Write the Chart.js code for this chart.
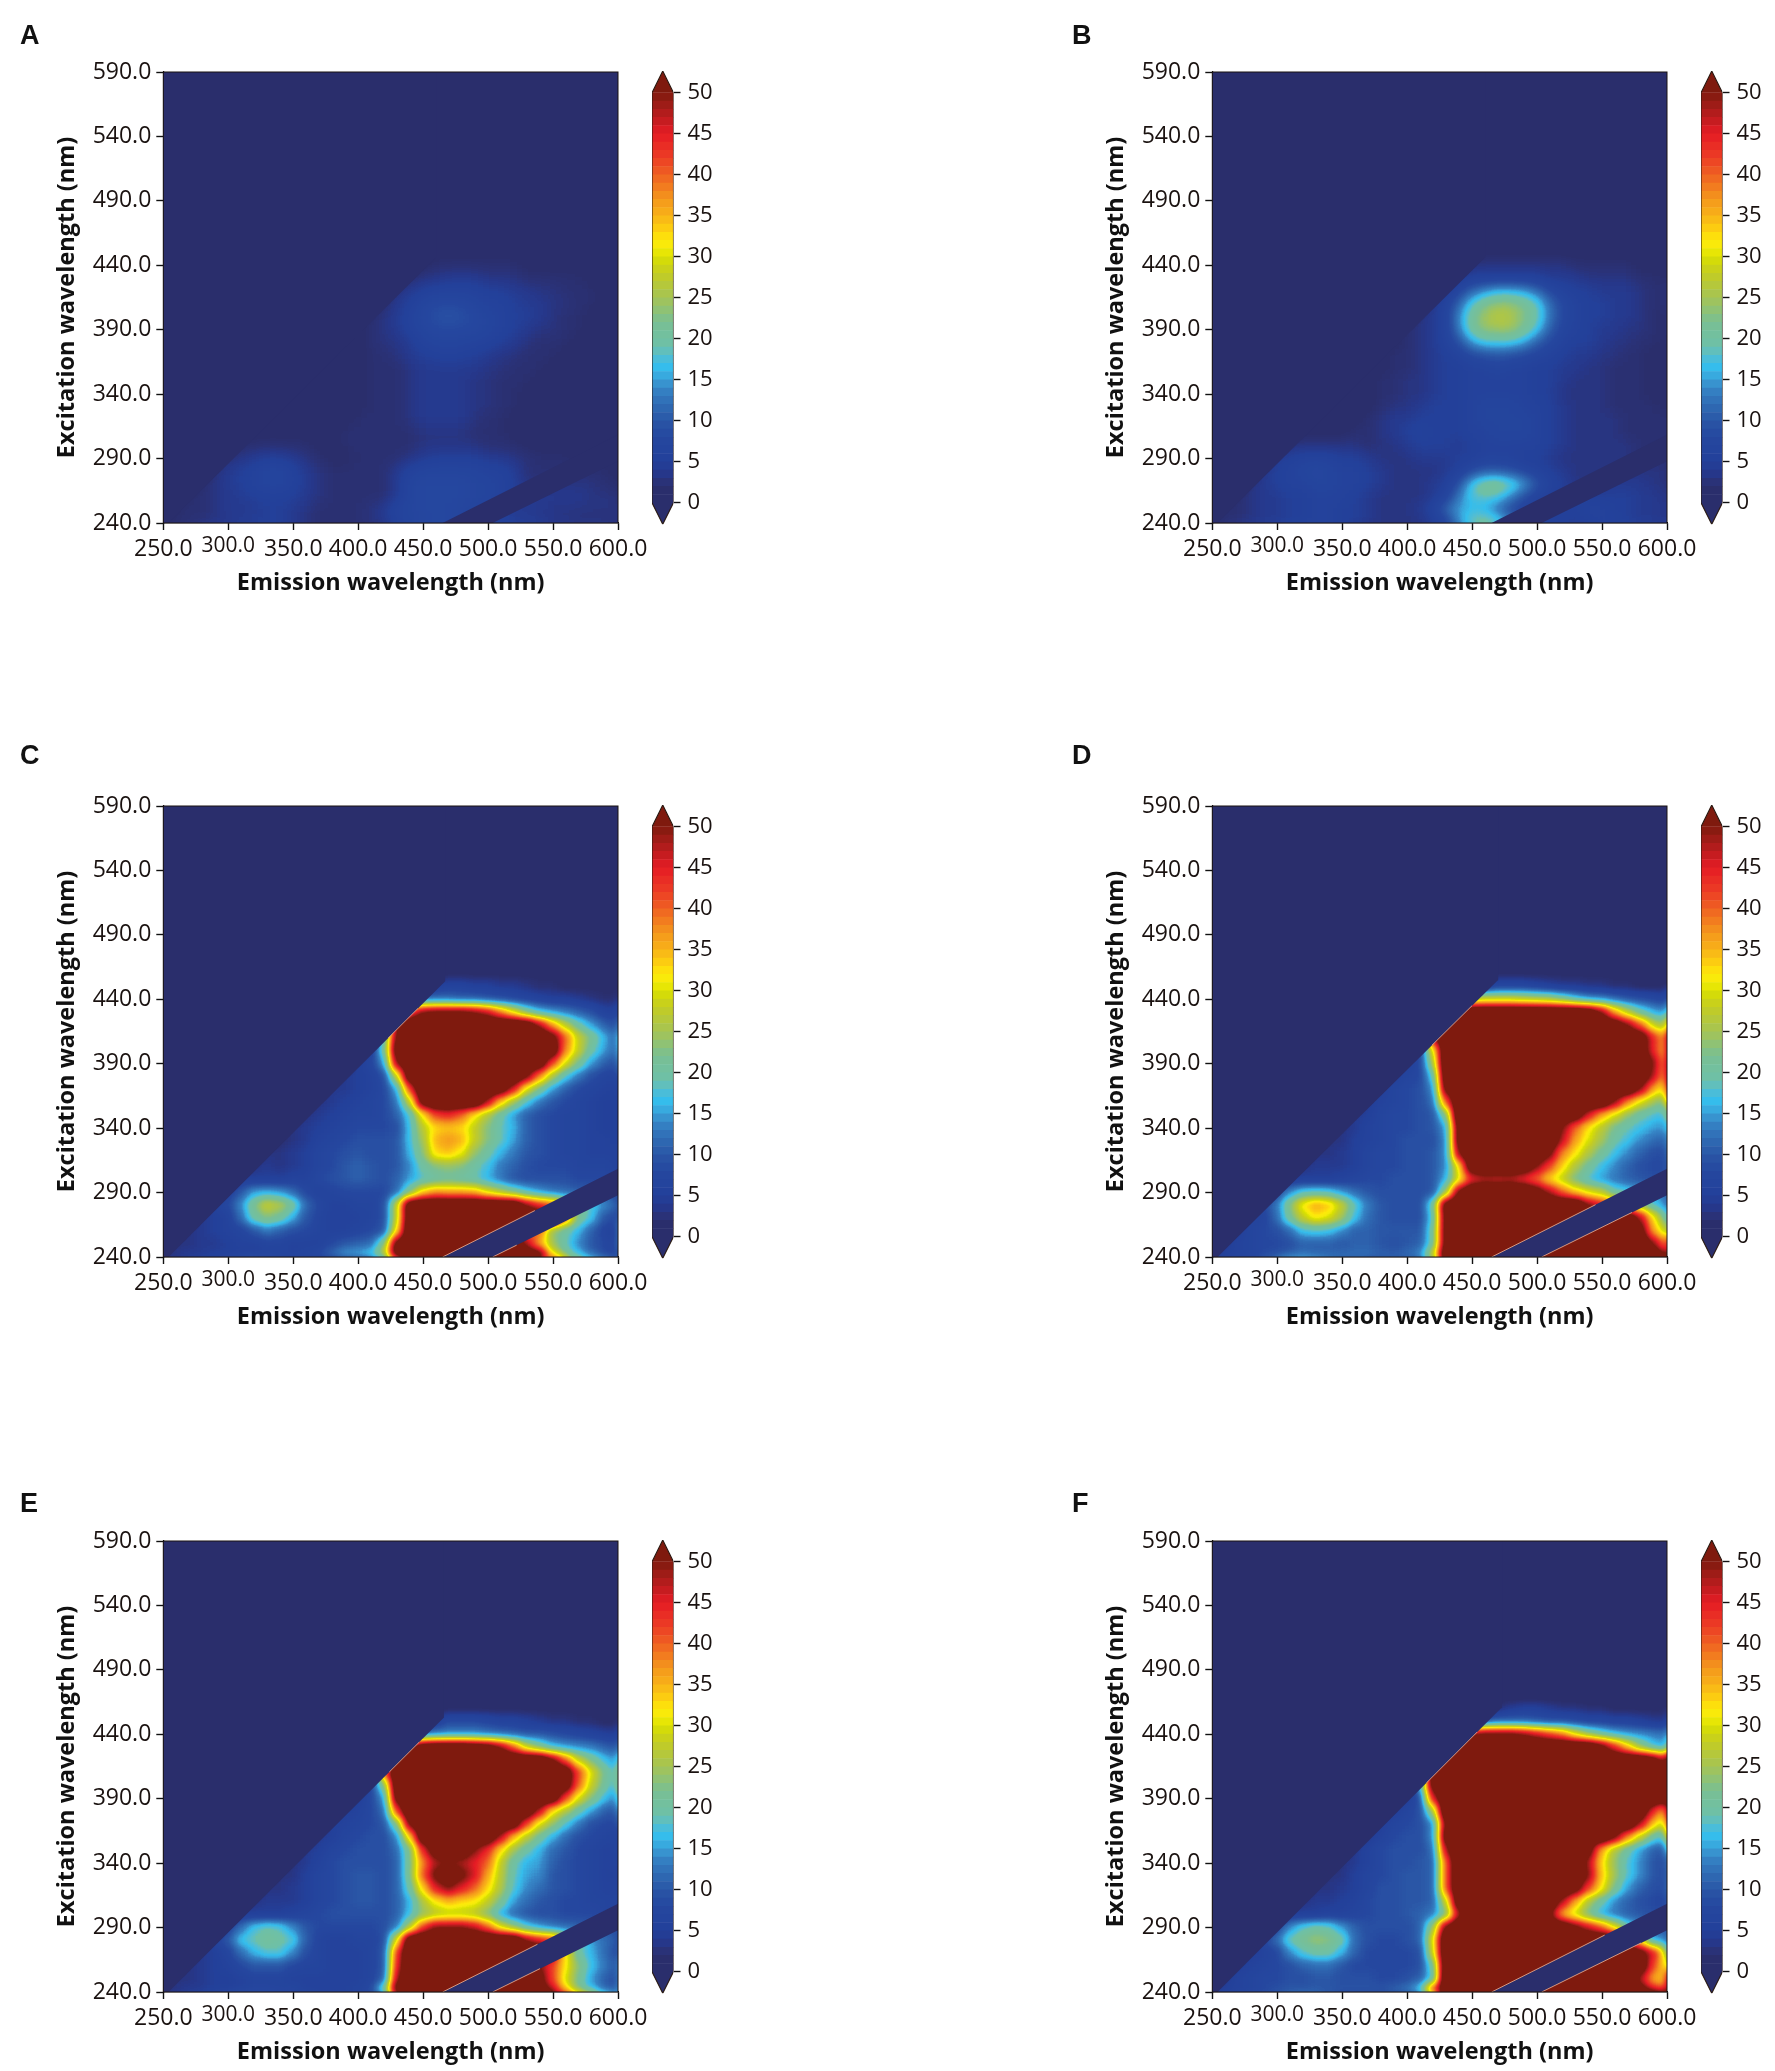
<!DOCTYPE html>
<html><head><meta charset="utf-8">
<style>
html,body{margin:0;padding:0;background:#fff;width:1775px;height:2071px;overflow:hidden}
canvas{position:absolute;display:block}
.tag{position:absolute;font:bold 27px "Liberation Sans",Arial,sans-serif;color:#111;line-height:1}
</style>
<script src="https://cdn.jsdelivr.net/npm/chart.js@4"></script>
</head><body>
<script>
const panelNames=['A','B','C','D','E','F'];
const emTicks=[250,300,350,400,450,500,550,600];
const exTicks=[240,290,340,390,440,490,540,590];
const cbarTicks=[0,5,10,15,20,25,30,35,40,45,50];
const cbarLevels=[0,1,2,3,4,5,6,7,8,9,10,11,12,13,14,15,16,17,18,19,20,21,22,23,24,25,26,27,28,29,30,31,32,33,34,35,36,37,38,39,40,41,42,43,44,45,46,47,48,49];
const colorStops=[[0,'#2a2e6c'],[1.5,'#2a2e6c'],[2.5,'#2a3278'],[3.5,'#26378a'],[5,'#23409a'],[8,'#25479f'],[10,'#2a56a6'],[12,'#2f6cb4'],[14,'#3685c6'],[15,'#39a0d8'],[16.5,'#35bdec'],[18,'#55bdd0'],[19,'#6dc0a8'],[22,'#79bf94'],[25,'#a5c454'],[28,'#c4cc22'],[30,'#d9e000'],[31,'#f4eb0a'],[32,'#fde90a'],[33,'#fdd50e'],[35,'#f8b218'],[37,'#f4971c'],[40,'#ef6122'],[42,'#ec3e25'],[45,'#e51b24'],[46,'#d01c22'],[48,'#a81c1a'],[50,'#7f1a0e']];
const exRows=[460,450,440,430,420,410,400,390,380,370,360,350,340,330,320,310,300,290,280,270,260,250,240];
const gridA=[
[1,1,1,1,1,1,1,1,1,1,1,1,1,1],
[1,1,1,1,1,1,1,1,1,1,1,1,1,1,1],
[1,2,2,2,2,2,2,2,1,1,1,1,1,1,1,1],
[2,3,3,4,4,4,3,3,3,2,2,2,2,2,1,1,1],
[3,4,5,6,6,6,6,5,5,4,4,3,3,2,2,2,1,1],
[2,4,5,7,8,8,8,7,6,6,5,4,4,3,3,2,2,1,1],
[2,3,4,6,8,9,10,9,8,7,6,5,5,4,3,2,2,1,1,1],
[1,2,3,4,6,7,8,8,8,8,7,6,5,4,3,3,2,2,1,1,1],
[1,1,2,3,3,4,6,7,7,7,6,6,5,4,3,2,2,2,1,1,1,1],
[1,1,1,2,2,3,4,5,5,6,5,5,4,3,3,2,2,2,1,1,1,1,1],
[1,1,1,1,2,2,2,3,4,4,4,4,4,3,3,2,2,2,1,1,1,1,1,1],
[1,1,1,1,1,2,2,2,3,4,4,4,4,3,3,2,2,2,1,1,1,1,1,1,1],
[1,1,1,1,1,1,2,2,2,3,4,4,4,4,3,3,2,2,1,1,1,1,1,1,1,1],
[1,1,1,1,1,1,1,2,2,2,3,4,4,4,4,3,3,2,2,1,1,1,1,1,1,1,1],
[1,1,1,1,1,1,1,2,2,2,2,3,4,4,4,4,3,2,2,1,1,1,1,1,1,1,1,1],
[1,1,1,1,1,1,1,2,2,2,2,2,2,3,3,3,3,2,2,2,1,1,1,1,1,1,1,1,1],
[2,2,2,2,2,2,1,1,2,2,2,2,2,2,3,3,3,3,3,2,2,2,1,1,1,1,1,1,1,1],
[3,3,4,5,5,4,3,2,1,1,2,2,2,2,3,4,5,5,5,5,4,4,3,3,2,2,2,1,1,1,1],
[3,4,5,6,7,7,6,4,3,2,2,2,2,2,4,6,7,7,7,7,7,6,6,5,2,2,2,2,2,2,2,1],
[2,3,4,5,6,7,7,6,4,3,2,2,2,2,2,4,7,8,8,8,8,7,7,6,5,3,3,3,3,3,3,2,2],
[2,2,3,4,4,5,5,5,5,4,3,2,2,2,2,2,4,7,8,8,8,8,7,7,6,5,4,4,4,4,4,3,3,3],
[2,2,2,3,4,4,4,5,5,4,3,2,2,2,2,3,4,7,7,8,8,8,7,7,6,5,4,4,4,3,3,3,3,3,3],
[1,1,2,2,3,3,4,4,5,5,4,3,2,2,2,2,3,4,6,7,7,8,8,7,6,6,5,4,4,4,3,3,2,2,2,2]];
const gridB=[
[1,1,1,1,1,1,1,1,1,1,1,1,1,1],
[1,1,1,1,1,1,1,1,1,1,1,1,1,1,1],
[3,3,3,3,3,3,3,3,2,2,2,2,2,1,1,1],
[4,5,5,5,5,5,5,4,4,4,3,3,3,3,2,2,1],
[4,7,11,14,16,16,15,12,8,6,5,5,4,4,4,3,2,2],
[4,6,11,18,22,24,24,22,19,12,8,6,5,5,4,4,3,2,2],
[3,4,6,14,21,25,27,26,23,20,13,8,6,5,5,4,4,3,2,1],
[2,3,4,6,13,21,24,25,25,22,18,11,7,6,5,4,4,3,3,2,1],
[1,2,3,4,6,9,15,18,18,18,16,11,8,6,5,5,4,3,3,2,2,1],
[1,2,2,3,4,5,6,8,9,10,9,8,7,6,5,4,4,3,3,2,2,1,1],
[1,1,2,2,3,4,5,5,6,6,7,6,6,5,5,4,4,3,3,2,2,2,1,1],
[1,1,2,2,3,3,4,5,5,6,6,6,6,6,5,5,4,3,3,3,2,2,2,1,1],
[1,1,1,2,2,3,3,4,5,5,6,6,6,6,6,5,5,3,3,3,3,2,2,2,1,1],
[1,1,1,1,2,3,3,4,5,5,5,6,7,7,7,6,6,5,4,3,3,3,2,2,2,2,1],
[1,1,1,1,2,3,4,4,5,5,5,5,6,7,7,7,7,6,5,4,3,3,3,3,2,2,2,2],
[1,1,1,1,2,2,3,4,5,6,5,5,5,6,6,7,7,7,6,5,4,3,3,3,3,2,2,2,2],
[3,3,3,3,3,3,2,3,3,4,5,5,5,4,5,6,6,6,6,6,5,4,3,3,3,3,3,2,2,2],
[5,5,6,6,6,5,5,4,3,3,3,4,4,4,5,5,6,6,6,5,5,4,3,3,3,3,3,3,2,2,2],
[4,5,6,7,8,7,6,6,5,4,3,3,3,3,4,5,8,10,10,9,7,6,5,4,3,3,3,3,3,3,3,3],
[3,4,5,6,6,7,7,6,6,5,4,3,3,3,4,5,9,18,22,23,20,16,10,6,5,3,3,3,4,4,4,3,3],
[2,3,4,4,5,5,6,6,6,5,4,3,3,3,3,4,6,13,18,19,18,14,9,6,5,4,5,5,5,5,5,4,4,3],
[2,2,3,4,4,5,5,6,6,5,5,4,3,3,3,4,6,12,15,16,15,12,8,6,5,5,5,5,6,6,5,5,4,4,3],
[1,2,2,3,4,4,5,5,6,6,5,5,4,3,3,3,3,4,6,15,21,24,20,14,8,6,5,5,5,5,6,6,5,4,4,3]];
const gridC=[
[1,1,1,1,1,1,1,1,1,1,1,1,1,1],
[5,6,6,5,5,4,4,3,2,2,1,1,1,1,1],
[12,12,12,11,11,10,9,8,7,6,5,5,4,3,2,2],
[40,50,52,52,52,50,46,38,30,22,17,15,13,11,9,6,5],
[50,60,60,60,60,60,60,60,60,60,58,48,36,27,20,15,11,8],
[18,52,60,60,60,60,60,60,60,60,60,60,60,54,40,28,22,16,10],
[6,20,56,60,60,60,60,60,60,60,60,60,60,60,58,38,28,20,15,10],
[5,7,15,50,60,60,60,60,60,60,60,60,60,60,58,42,30,22,15,11,8],
[4,5,6,9,28,58,60,60,60,60,60,60,60,60,52,38,26,18,13,9,7,6],
[4,4,5,6,8,16,42,60,60,60,60,60,60,57,46,30,22,15,11,8,7,6,5],
[3,4,5,6,7,8,13,28,55,60,60,60,60,48,34,25,18,13,10,8,7,6,5,5],
[3,4,5,6,7,7,8,11,18,32,42,44,40,32,26,20,15,11,9,8,7,7,6,5,5],
[3,4,5,6,7,8,8,8,9,17,27,33,34,33,28,23,19,16,11,9,8,7,7,6,5,5],
[2,3,4,6,7,8,9,9,9,10,17,25,35,37,35,28,23,19,15,11,9,8,7,7,6,6,5],
[3,3,4,5,7,8,9,10,9,9,10,16,23,33,34,31,24,20,16,13,10,9,8,7,7,6,6,6],
[3,4,3,4,5,7,8,10,11,10,9,10,14,20,23,24,23,20,17,13,11,9,8,8,8,7,7,7,6],
[5,5,5,5,6,6,8,9,10,11,10,9,11,15,18,20,21,20,19,16,13,10,9,9,9,9,8,8,8,7],
[6,10,15,16,15,12,8,6,7,8,8,8,8,12,22,33,37,36,36,35,30,26,22,18,15,13,12,11,10,9,8],
[6,8,14,22,28,26,21,12,8,6,6,7,7,9,28,58,60,60,60,60,60,60,60,60,50,44,40,30,22,18,14,11],
[4,5,6,12,20,23,21,16,10,7,6,6,6,7,9,28,58,60,60,60,60,60,60,60,60,60,60,60,40,22,17,10,7],
[3,4,5,6,7,10,13,11,9,8,7,6,6,7,8,10,32,60,60,60,60,60,60,60,60,60,40,40,24,20,16,11,7,5],
[3,3,4,4,5,6,6,7,7,6,6,6,8,10,11,12,22,54,60,60,60,60,60,60,60,60,60,48,36,25,19,14,10,8,6],
[3,3,4,4,5,5,5,5,6,6,6,7,9,13,17,18,20,30,60,60,60,60,60,60,60,60,60,60,60,60,33,22,17,12,8,6]];
const gridD=[
[1,1,1,1,1,1,1,1,1,1,1,1,1,1],
[4,7,7,7,6,5,4,4,3,3,2,2,1,1,1],
[26,28,28,28,27,26,25,22,18,15,14,12,10,9,8,6],
[60,60,60,60,60,60,60,60,60,60,58,50,36,27,20,16,13],
[60,60,60,60,60,60,60,60,60,60,60,60,60,57,50,40,28,22],
[50,60,60,60,60,60,60,60,60,60,60,60,60,60,60,60,57,44,33],
[8,30,60,60,60,60,60,60,60,60,60,60,60,60,60,60,60,57,44,32],
[5,8,25,60,60,60,60,60,60,60,60,60,60,60,60,60,60,60,60,50,33],
[5,7,8,18,58,60,60,60,60,60,60,60,60,60,60,60,60,60,60,58,48,32],
[5,7,8,9,14,54,60,60,60,60,60,60,60,60,60,60,60,60,60,60,50,36,28],
[4,6,7,8,9,12,40,60,60,60,60,60,60,60,60,60,60,60,60,50,38,30,25,20],
[4,5,7,8,8,9,10,22,60,60,60,60,60,60,60,60,60,57,46,36,30,24,20,18,16],
[3,4,6,7,8,8,9,10,15,55,60,60,60,60,60,60,60,50,40,32,27,22,19,17,15,14],
[3,3,5,6,7,8,9,9,9,14,55,60,60,60,60,60,60,60,47,36,30,25,20,17,14,12,10],
[3,3,4,5,7,8,8,9,9,10,14,50,60,60,60,60,60,60,52,38,32,26,21,17,14,11,9,8],
[3,4,4,4,5,7,8,8,9,9,10,14,32,58,60,60,60,58,50,42,33,26,21,17,14,11,9,8,8],
[5,5,5,5,6,7,8,8,9,9,9,10,16,30,44,47,46,47,44,40,33,28,22,18,15,13,11,10,9,9],
[8,14,18,19,18,15,12,10,9,9,9,9,10,24,52,60,60,60,60,60,55,48,40,34,30,27,20,18,16,14,12],
[8,13,23,32,36,34,28,19,13,10,9,9,9,20,56,60,60,60,60,60,60,60,60,60,60,50,45,40,30,25,18,14],
[6,7,12,21,28,32,30,25,17,12,10,9,9,9,18,54,60,60,60,60,60,60,60,60,60,60,60,60,60,60,48,32,20],
[5,7,8,9,12,17,18,17,14,11,11,10,10,10,10,20,54,60,60,60,60,60,60,60,60,60,60,60,60,60,60,55,36,27],
[4,6,7,8,8,9,11,11,11,10,11,11,10,9,10,11,20,54,60,60,60,60,60,60,60,60,60,60,60,60,60,60,60,50,36],
[4,5,6,7,8,9,11,12,11,11,12,12,12,11,11,12,15,30,60,60,60,60,60,60,60,60,60,60,60,60,60,60,60,60,60,50]];
const gridE=[
[1,1,1,1,1,1,1,1,1,1,1,1,1,1],
[5,8,8,8,7,6,6,5,4,3,3,2,2,1,1],
[12,13,14,14,14,13,12,11,10,10,9,8,7,6,5,4],
[48,58,60,60,60,58,56,50,40,28,22,17,15,14,13,11,9],
[55,60,60,60,60,60,60,60,60,60,60,60,52,40,28,22,17,13],
[40,60,60,60,60,60,60,60,60,60,60,60,60,60,58,42,30,22,15],
[8,22,58,60,60,60,60,60,60,60,60,60,60,60,60,57,40,28,21,15],
[5,8,15,55,60,60,60,60,60,60,60,60,60,60,60,58,42,30,23,17,12],
[5,6,8,12,42,60,60,60,60,60,60,60,60,60,58,47,32,26,20,15,11,9],
[5,6,7,8,10,22,52,60,60,60,60,60,60,60,57,42,30,24,18,13,9,8,7],
[4,5,7,8,9,9,14,33,58,60,60,60,60,58,48,35,27,21,16,12,9,8,7,6],
[4,5,7,8,9,9,9,12,22,44,56,60,58,50,44,33,25,20,16,12,10,8,7,6,6],
[3,4,6,8,9,9,9,9,11,22,38,48,50,48,45,40,28,20,16,15,11,9,8,7,6,6],
[3,3,5,7,8,9,10,10,9,11,22,40,52,58,52,46,36,27,19,15,14,10,9,8,7,6,5],
[3,3,4,5,7,8,9,10,10,9,11,20,33,45,50,45,40,33,26,18,14,12,10,9,8,7,6,6],
[3,4,4,4,5,7,8,9,10,10,9,11,16,26,32,35,33,32,28,22,15,12,10,9,8,8,7,7,6],
[5,5,5,5,6,7,8,9,9,9,9,9,11,17,24,27,28,28,27,23,16,12,10,9,9,8,8,8,7,7],
[7,12,17,19,18,14,10,8,8,8,8,8,9,13,26,42,50,50,50,47,40,30,24,18,15,13,12,11,10,9,9],
[7,10,17,19,21,20,18,11,7,6,6,7,7,9,30,58,60,60,60,60,60,60,60,60,50,45,42,30,20,15,12,10],
[4,5,7,12,16,18,18,14,9,7,6,6,6,7,10,42,60,60,60,60,60,60,60,60,60,60,60,50,32,20,16,12,8],
[3,4,5,6,8,10,10,10,8,7,7,6,6,6,7,10,44,60,60,60,60,60,60,60,60,60,60,50,42,32,23,17,13,9],
[3,3,4,5,5,6,7,7,7,6,6,6,6,6,6,7,11,48,60,60,60,60,60,60,60,60,60,60,54,42,30,22,15,11,8],
[3,3,4,4,5,5,6,7,7,7,8,6,6,6,6,7,9,24,58,60,60,60,60,60,60,60,60,60,60,56,48,33,21,16,11,8]];
const gridF=[
[2,4,5,5,4,3,3,2,2,1,1,1,1,1],
[9,11,11,11,10,9,9,8,7,7,6,6,5,4,3],
[50,52,52,52,50,46,42,38,30,24,20,17,15,14,13,12],
[60,60,60,60,60,60,60,60,60,60,60,54,44,34,24,18,14],
[60,60,60,60,60,60,60,60,60,60,60,60,60,60,60,60,56,44],
[60,60,60,60,60,60,60,60,60,60,60,60,60,60,60,60,60,60,60],
[16,55,60,60,60,60,60,60,60,60,60,60,60,60,60,60,60,60,60,60],
[5,9,45,60,60,60,60,60,60,60,60,60,60,60,60,60,60,60,60,60,55],
[5,7,9,25,60,60,60,60,60,60,60,60,60,60,60,60,60,60,60,58,44,32],
[5,7,8,9,14,52,60,60,60,60,60,60,60,60,60,60,60,60,60,60,48,34,24],
[4,6,8,9,9,14,56,60,60,60,60,60,60,60,60,60,60,60,60,52,38,28,20,15],
[4,6,8,9,9,9,12,48,60,60,60,60,60,60,60,60,60,60,55,36,26,20,15,11,9],
[3,4,6,8,9,9,10,11,40,60,60,60,60,60,60,60,60,60,60,48,33,24,18,14,10,8],
[3,3,5,7,8,9,10,10,11,40,60,60,60,60,60,60,60,60,60,60,50,34,25,18,14,10,8],
[3,3,4,5,7,9,9,10,10,11,40,60,60,60,60,60,60,60,60,60,55,42,32,22,15,11,9,8],
[3,4,4,5,6,8,9,9,10,10,11,28,58,60,60,60,60,60,60,60,48,36,26,20,14,11,9,8,7],
[5,5,5,6,6,7,8,9,9,10,11,13,22,48,60,60,60,60,60,60,52,36,29,22,16,13,11,10,9,8],
[8,14,18,20,19,15,11,9,9,9,9,11,24,52,60,60,60,60,60,60,60,60,58,52,46,40,30,20,14,10,9],
[8,12,19,22,24,23,20,12,9,8,8,9,11,30,60,60,60,60,60,60,60,60,60,60,60,60,60,60,45,30,16,14],
[5,6,8,14,18,20,20,16,11,8,8,8,8,9,28,60,60,60,60,60,60,60,60,60,60,60,60,60,60,60,55,45,30],
[5,6,7,8,9,11,12,12,10,8,8,8,8,8,9,20,58,60,60,60,60,60,60,60,60,60,60,60,60,60,60,58,42,30],
[4,6,7,8,8,9,9,10,10,9,9,9,8,8,9,11,18,60,60,60,60,60,60,60,60,60,60,60,60,60,60,60,48,36,32],
[4,5,6,7,8,9,10,10,10,10,10,10,10,10,12,14,20,50,60,60,60,60,60,60,60,60,60,60,60,60,60,60,60,55,46,38]];
const grids=[gridA,gridB,gridC,gridD,gridE,gridF];
const diagTopEm=[460,460,467,470,466,473];
const diagTopEx=[446,446,454,455,453,461];
const diagStartEm=254;
const bandEm=[465,503.5];
const bandEx=[308.5,288];
// emission range over which the hot field touches each sharp edge (null: no visible seam)
const seamDiag=[null,null,[423,446],[419,450],[424,447],[415,454]];
const seamUpper=[null,null,[465,536],[465,545],[465,538],[465,552]];
const seamLower=[null,null,[503.5,522],[503.5,573],[503.5,540],[503.5,580]];
const blurPx=[8,7,4.6,4.6,4.6,4.6];

const FONT='"Open Sans",sans-serif', NAVY='#2a2e6c', SEAM='rgba(236,170,140,0.85)', GAIN=4;
function hex(c){return [1,3,5].map(i=>parseInt(c.substr(i,2),16));}
function colourOf(v){
  if(v<=colorStops[0][0])return hex(colorStops[0][1]);
  for(let i=1;i<colorStops.length;i++){
    if(v<=colorStops[i][0]){
      const [a,ca]=colorStops[i-1],[b,cb]=colorStops[i],t=(v-a)/(b-a),p=hex(ca),q=hex(cb);
      return p.map((x,k)=>Math.round(x+(q[k]-x)*t));
    }
  }
  return hex(colorStops[colorStops.length-1][1]);
}
const LUT=[];for(let g=0;g<256;g++)LUT.push(colourOf(g/GAIN));
function css(c){return 'rgb('+c.join(',')+')';}
function heatPoints(grid){
  const pts=[];
  grid.forEach((row,r)=>row.forEach((v,i)=>pts.push({x:600-(row.length-1-i)*10,y:exRows[r],v})));
  return pts;
}
function grayOf(v){const g=Math.min(255,Math.round(v*GAIN));return 'rgb('+g+','+g+','+g+')';}
function toColourField(chart,blur){
  const d=chart.currentDevicePixelRatio||1,a=chart.chartArea,ctx=chart.ctx;
  const x=Math.round(a.left*d),y=Math.round(a.top*d),w=Math.round((a.right-a.left)*d),h=Math.round((a.bottom-a.top)*d),m=Math.round(30*d);
  const t=document.createElement('canvas');t.width=w+2*m;t.height=h+2*m;
  const c=t.getContext('2d');
  c.drawImage(chart.canvas,x,y,w,h,0,0,w+2*m,h+2*m);
  c.drawImage(chart.canvas,x,y,w,h,m,m,w,h);
  const o=document.createElement('canvas');o.width=w;o.height=h;
  const oc=o.getContext('2d',{willReadFrequently:true});
  oc.filter='blur('+(blur*d)+'px)';
  oc.drawImage(t,-m,-m);
  const img=oc.getImageData(0,0,w,h),p=img.data;
  for(let i=0;i<p.length;i+=4){const k=LUT[p[i]];p[i]=k[0];p[i+1]=k[1];p[i+2]=k[2];p[i+3]=255;}
  ctx.putImageData(img,x,y);
}
const fieldPlugin={id:'field',
  beforeDatasetsDraw(chart){const a=chart.chartArea,c=chart.ctx;c.save();c.fillStyle='#000';c.fillRect(a.left,a.top,a.right-a.left,a.bottom-a.top);c.restore();},
  afterDatasetDraw(chart,args){const ds=chart.data.datasets[args.index];if(ds.isField)toColourField(chart,ds.blur);},
  afterDraw(chart){const a=chart.chartArea,c=chart.ctx;c.save();c.strokeStyle='#1a1210';c.lineWidth=1;c.strokeRect(a.left,a.top,a.right-a.left,a.bottom-a.top);c.restore();}
};
function heatChart(idx,left,top){
  const cv=document.createElement('canvas');cv.width=680;cv.height=620;cv.style.left=left+'px';cv.style.top=top+'px';
  cv.style.width='680px';cv.style.height='620px';
  document.body.appendChild(cv);
  const poly=(pts)=>({type:'scatter',data:pts,showLine:true,pointRadius:0,borderWidth:0,borderColor:NAVY,backgroundColor:NAVY,fill:'shape',order:2,tension:0});
  const seamLine=(pts)=>({type:'scatter',data:pts,showLine:true,pointRadius:0,borderWidth:1,borderColor:SEAM,fill:false,order:1,tension:0});
  const onDiag=(em)=>({x:em,y:240+(em-diagStartEm)*(diagTopEx[idx]-240)/(diagTopEm[idx]-diagStartEm)});
  const onBand=(em,k)=>({x:em,y:240+(em-bandEm[k])*(bandEx[k]-240)/(600-bandEm[k])});
  const datasets=[
      {isField:true,blur:blurPx[idx],order:5,data:heatPoints(grids[idx]),pointStyle:'rect',pointBorderWidth:0,
       pointRadius:c=>{const s=c.chart.scales.x;return (Math.abs(s.getPixelForValue(260)-s.getPixelForValue(250))/2+0.6)*Math.SQRT2;},
       pointBackgroundColor:c=>grayOf(c.raw.v)},
      poly([{x:250,y:240},{x:diagStartEm,y:240},{x:diagTopEm[idx],y:diagTopEx[idx]},{x:diagTopEm[idx],y:590},{x:250,y:590}]),
      poly([{x:bandEm[0],y:240},{x:600,y:bandEx[0]},{x:600,y:bandEx[1]},{x:bandEm[1],y:240}])
  ];
  if(seamDiag[idx])datasets.push(seamLine(seamDiag[idx].map(onDiag)));
  if(seamUpper[idx])datasets.push(seamLine(seamUpper[idx].map(e=>onBand(e,0))));
  if(seamLower[idx])datasets.push(seamLine(seamLower[idx].map(e=>onBand(e,1))));
  const tickFont=(ctx)=>ctx.tick&&ctx.tick.value===300?{family:FONT,size:21,lineHeight:1}:{family:FONT,size:23,lineHeight:1.2};
  return new Chart(cv,{type:'scatter',
    data:{datasets},
    options:{responsive:false,animation:false,events:[],devicePixelRatio:1,
      layout:{padding:{top:72,right:62,left:0,bottom:0}},
      plugins:{legend:{display:false},tooltip:{enabled:false}},
      scales:{
        x:{type:'linear',min:250,max:600,afterBuildTicks:s=>{s.ticks=emTicks.map(value=>({value}));},
           afterFit:s=>{s.height=97;},
           grid:{drawOnChartArea:false,tickLength:7,color:'#111',tickWidth:1.4},border:{color:'#111',width:1.2},
           ticks:{autoSkip:false,maxRotation:0,padding:6,color:'#1a1210',font:tickFont,callback:v=>v.toFixed(1)},
           title:{display:true,text:'Emission wavelength (nm)',color:'#111',font:{family:FONT,size:23.5,weight:'bold',lineHeight:1.2},padding:{top:0,bottom:23}}},
        y:{type:'linear',min:240,max:590,afterBuildTicks:s=>{s.ticks=exTicks.map(value=>({value}));},
           afterFit:s=>{s.width=163.3;},
           grid:{drawOnChartArea:false,tickLength:7,color:'#111',tickWidth:1.4},border:{color:'#111',width:1.2},
           ticks:{autoSkip:false,padding:5,color:'#1a1210',font:{family:FONT,size:23},callback:v=>v.toFixed(1)},
           title:{display:true,text:'Excitation wavelength (nm)',color:'#111',font:{family:FONT,size:23.5,weight:'bold',lineHeight:1.2},padding:{top:53,bottom:0}}}
      }},
    plugins:[fieldPlugin]});
}
function colorbarChart(left,top){
  const cv=document.createElement('canvas');cv.width=110;cv.height=620;cv.style.left=left+'px';cv.style.top=top+'px';
  cv.style.width='110px';cv.style.height='620px';
  document.body.appendChild(cv);
  const tipLow=-2.63,tipHigh=52.65;
  const line={type:'scatter',showLine:true,pointRadius:0,tension:0};
  const ds=cbarLevels.map(v=>{const c=css(colourOf(v+0.5));return {...line,fill:'shape',borderWidth:0,backgroundColor:c,borderColor:c,order:3,
     data:[{x:0,y:v-0.03},{x:1,y:v-0.03},{x:1,y:v+1.03},{x:0,y:v+1.03}]};});
  ds.push({...line,fill:'shape',borderWidth:0,order:3,backgroundColor:css(colourOf(50)),data:[{x:0,y:50},{x:1,y:50},{x:0.5,y:tipHigh}]});
  ds.push({...line,fill:'shape',borderWidth:0,order:3,backgroundColor:css(colourOf(0)),data:[{x:0,y:0},{x:1,y:0},{x:0.5,y:tipLow}]});
  ds.push({...line,fill:false,borderWidth:1.1,borderColor:'#2a1a12',order:1,
     data:[{x:0,y:0},{x:0.5,y:tipLow},{x:1,y:0},{x:1,y:50},{x:0.5,y:tipHigh},{x:0,y:50},{x:0,y:0}]});
  return new Chart(cv,{type:'scatter',data:{datasets:ds},
    options:{responsive:false,animation:false,events:[],devicePixelRatio:1,
      layout:{padding:{top:71,left:22,bottom:95.7,right:0}},
      plugins:{legend:{display:false},tooltip:{enabled:false}},
      scales:{
        x:{type:'linear',min:0,max:1,display:false},
        y:{type:'linear',position:'right',min:tipLow,max:tipHigh,afterBuildTicks:s=>{s.ticks=cbarTicks.map(value=>({value}));},
           afterFit:s=>{s.width=66.5;},
           grid:{drawOnChartArea:false,tickLength:7,color:'#111',tickWidth:1.4},border:{display:false},
           ticks:{autoSkip:false,padding:7,color:'#1a1210',font:{family:FONT,size:22}}}
      }}});
}
const colX=[0,1049],rowY=[0,734,1469],tagX=[20,1072],tagY=[22,742,1490];
panelNames.forEach((name,i)=>{
  const cx=i%2,ry=Math.floor(i/2);
  heatChart(i,colX[cx],rowY[ry]);
  colorbarChart(630+colX[cx],rowY[ry]);
  const t=document.createElement('div');t.className='tag';t.textContent=name;t.style.left=tagX[cx]+'px';t.style.top=tagY[ry]+'px';document.body.appendChild(t);
});
</script>
</body></html>
